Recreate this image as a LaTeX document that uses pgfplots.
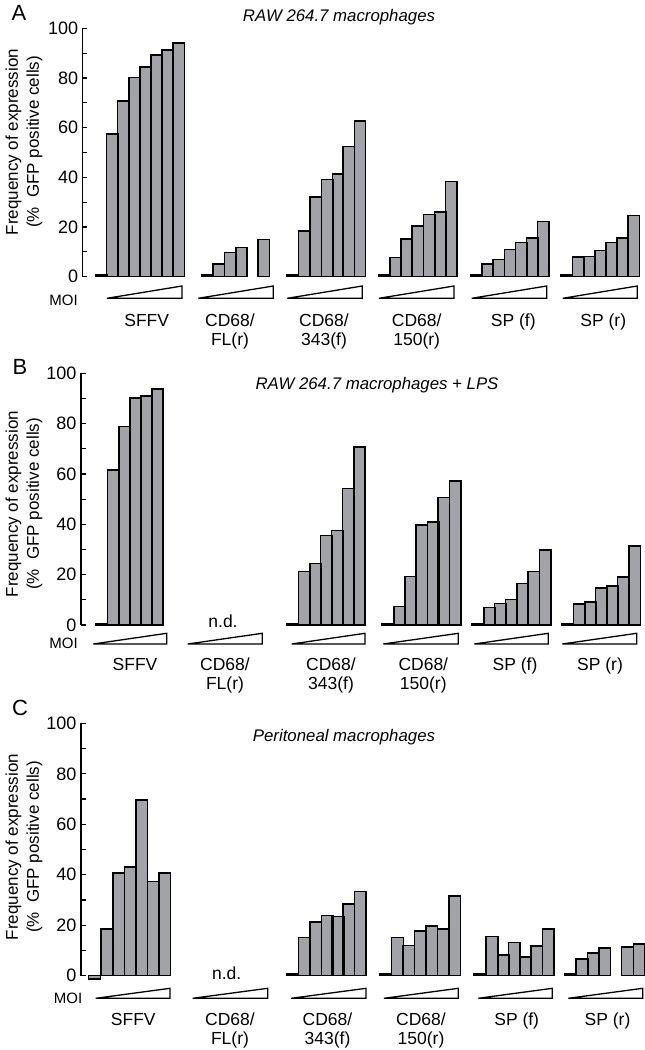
\documentclass[border=0pt]{standalone}
\usepackage{fontspec}
\setmainfont{Liberation Sans}
\usepackage{pgfplots}
\pgfplotsset{compat=1.18}
\definecolor{barGray}{HTML}{A2A3A8}

\pgfplotsset{
  panel/.style={
    x=1pt, xmax=645, ymin=0, ymax=100, clip=false,
    axis x line=none, axis y line*=left,
    ytick={0,20,...,100}, minor y tick num=1,
    tick align=inside, major tick length=4.5pt, minor tick length=4.5pt,
    every tick/.style={black, line width=1.2pt},
    axis line style={line width=1.4pt},
    yticklabel style={font=\fontsize{18}{18}\selectfont, xshift=-1pt},
    /pgf/number format/assume math mode=true,
    anchor=south west,
  },
  bars/.style={ybar, bar width=#1, fill=barGray, draw=black, line width=1.6pt},
  wedge/.style={fill=white, draw=black, line width=1.3pt, line join=miter},
}
\newcommand{\lab}{\fontsize{17.5}{18.3}\selectfont}
% group label, one or two lines: \grp{x}{baseline y}{line 1}{line 2}
\newcommand{\grp}[4]{%
  \node[font=\lab, anchor=base] at (#1,#2) {#3};
  \node[font=\lab, anchor=base] at (#1,#2-18.3) {#4};}

\begin{document}
\begin{tikzpicture}[x=1pt,y=1pt]
\useasboundingbox (0,0) rectangle (645,1050);

% ---------- A: RAW 264.7 ----------
\begin{axis}[panel, xmin=82.7, y=2.483pt, at={(82.7pt,773.3pt)}]
\addplot[bars=11.3pt] coordinates {
  (101.8,0.6) (112.2,57.5) (123.3,70.8) (134.5,80.3) (145.5,84.4) (156.7,89.3) (167.8,91.3) (178.8,94.0)
  (207.5,0.6) (218.8,5.2) (230.0,9.8) (241.5,11.7) (263.8,15.0)
  (292.5,0.6) (304.2,18.5) (315.8,32.2) (327.2,39.2) (338.0,41.4) (348.8,52.4) (360.0,62.7)
  (384.2,0.6) (395.5,7.8) (406.7,15.2) (417.8,20.3) (429.2,25.1) (440.3,26.1) (451.2,38.3)
  (476.5,0.6) (487.8,5.2) (498.8,7.0) (510.0,11.0) (521.2,13.8) (532.2,15.6) (543.2,22.3)
  (566.7,0.6) (578.3,7.9) (589.5,8.2) (600.5,10.5) (611.7,13.8) (622.8,15.6) (633.8,24.6)
};
\addplot[wedge] coordinates {(107,-8.7) (182,-8.7) (182,-3.75)} -- cycle;
\addplot[wedge] coordinates {(198.3,-8.7) (273.3,-8.7) (273.3,-3.75)} -- cycle;
\addplot[wedge] coordinates {(287.3,-8.7) (362.3,-8.7) (362.3,-3.75)} -- cycle;
\addplot[wedge] coordinates {(379,-8.7) (454,-8.7) (454,-3.75)} -- cycle;
\addplot[wedge] coordinates {(471.7,-8.7) (546.7,-8.7) (546.7,-3.75)} -- cycle;
\addplot[wedge] coordinates {(562.7,-8.7) (637.3,-8.7) (637.3,-3.75)} -- cycle;
\end{axis}

% ---------- B: RAW 264.7 + LPS ----------
\begin{axis}[panel, xmin=81, y=2.517pt, at={(81pt,425pt)}]
\addplot[bars=11.4pt] coordinates {
  (101.2,0.6) (113.2,61.6) (124.5,78.8) (135.5,90.1) (146.3,91.0) (157.5,93.8)
  (292.2,0.6) (304.2,21.2) (315.5,24.5) (326.3,35.5) (337.2,37.5) (348.3,54.3) (359.5,70.8)
  (387.8,0.6) (399.5,7.3) (410.5,19.2) (421.8,39.7) (433.0,41.0) (443.8,50.7) (455.2,57.3)
  (477.8,0.6) (489.5,7.0) (500.3,8.6) (511.2,10.2) (522.5,16.5) (533.8,21.2) (545.0,29.8)
  (567.5,0.6) (579.2,8.3) (590.3,9.1) (601.2,14.8) (612.2,15.5) (623.3,19.1) (634.8,31.5)
};
\addplot[wedge] coordinates {(93.3,-7.55) (166.7,-7.55) (166.7,-3.3)} -- cycle;
\addplot[wedge] coordinates {(187.7,-7.55) (262.3,-7.55) (262.3,-3.3)} -- cycle;
\addplot[wedge] coordinates {(291.7,-7.55) (365,-7.55) (365,-3.3)} -- cycle;
\addplot[wedge] coordinates {(383.3,-7.55) (458.3,-7.55) (458.3,-3.3)} -- cycle;
\addplot[wedge] coordinates {(474.3,-7.55) (548.3,-7.55) (548.3,-3.3)} -- cycle;
\addplot[wedge] coordinates {(562.3,-7.55) (636.7,-7.55) (636.7,-3.3)} -- cycle;
\end{axis}

% ---------- C: Peritoneal ----------
\begin{axis}[panel, xmin=81, y=2.523pt, at={(81pt,74.3pt)}]
\addplot[bars=11.7pt] coordinates {
  (94.5,-1.2) (106.7,18.4) (118.8,40.8) (130.5,43.2) (141.8,69.6) (153.2,37.3) (164.7,40.6)
  (292.8,0.6) (304.5,15.1) (315.8,21.4) (327.2,23.8) (338.0,23.4) (348.8,28.4) (360.2,33.3)
  (385.3,0.6) (397.5,15.1) (408.8,11.9) (420.2,17.7) (431.8,19.7) (443.3,18.5) (454.8,31.7)
  (479.5,0.6) (492.0,15.5) (503.3,8.2) (514.2,13.1) (525.5,7.5) (536.7,11.8) (548.2,18.4)
  (570.8,0.6) (582.0,6.7) (593.2,8.9) (604.8,10.9) (627.5,11.3) (639.2,12.6)
};
\addplot[wedge] coordinates {(95.7,-8.96) (170,-8.96) (170,-5.0)} -- cycle;
\addplot[wedge] coordinates {(192.7,-8.96) (267.7,-8.96) (267.7,-5.0)} -- cycle;
\addplot[wedge] coordinates {(291,-8.96) (366,-8.96) (366,-5.0)} -- cycle;
\addplot[wedge] coordinates {(384,-8.96) (458.3,-8.96) (458.3,-5.0)} -- cycle;
\addplot[wedge] coordinates {(478.3,-8.96) (552.3,-8.96) (552.3,-5.0)} -- cycle;
\addplot[wedge] coordinates {(568.3,-8.96) (642.7,-8.96) (642.7,-5.0)} -- cycle;
\end{axis}

% ---------- text ----------
\begin{scope}[every node/.style={inner sep=0pt}]
% panel letters
\node[font=\fontsize{22}{22}\selectfont] at (19,1037.5) {A};
\node[font=\fontsize{22}{22}\selectfont] at (20,683.5) {B};
\node[font=\fontsize{22}{22}\selectfont] at (20,342) {C};
% titles
\node[font=\fontsize{16.8}{17}\itshape] at (339,1033) {RAW 264.7 macrophages};
\node[font=\fontsize{16.8}{17}\itshape] at (377,665) {RAW 264.7 macrophages + LPS};
\node[font=\fontsize{16.8}{17}\itshape] at (344,313) {Peritoneal macrophages};
% y labels
\foreach \yc in {908,546,203}
  \node[rotate=90, align=center, font=\fontsize{17}{21}\selectfont] at (24,\yc)
    {Frequency of expression\\(\%\ \ GFP positive cells)};
% MOI
\node[font=\fontsize{15}{15}\selectfont] at (63.5,750) {MOI};
\node[font=\fontsize{15}{15}\selectfont] at (63.5,407) {MOI};
\node[font=\fontsize{15}{15}\selectfont] at (68,52) {MOI};
% n.d.
\node[font=\lab] at (223,429) {n.d.};
\node[font=\lab] at (226.7,77) {n.d.};
% group labels A
\grp{146.7}{723}{SFFV}{}
\grp{230}{723}{CD68/}{FL(r)}
\grp{324}{723}{CD68/}{343(f)}
\grp{416.7}{723}{CD68/}{150(r)}
\grp{513.3}{723}{SP (f)}{}
\grp{603.3}{723}{SP (r)}{}
% group labels B
\grp{135}{379}{SFFV}{}
\grp{225}{379}{CD68/}{FL(r)}
\grp{331}{379}{CD68/}{343(f)}
\grp{423.3}{379}{CD68/}{150(r)}
\grp{515}{379}{SP (f)}{}
\grp{600}{379}{SP (r)}{}
% group labels C
\grp{133.3}{24}{SFFV}{}
\grp{230}{24}{CD68/}{FL(r)}
\grp{327.5}{24}{CD68/}{343(f)}
\grp{421}{24}{CD68/}{150(r)}
\grp{516.7}{24}{SP (f)}{}
\grp{607.5}{24}{SP (r)}{}
\end{scope}
\end{tikzpicture}
\end{document}
